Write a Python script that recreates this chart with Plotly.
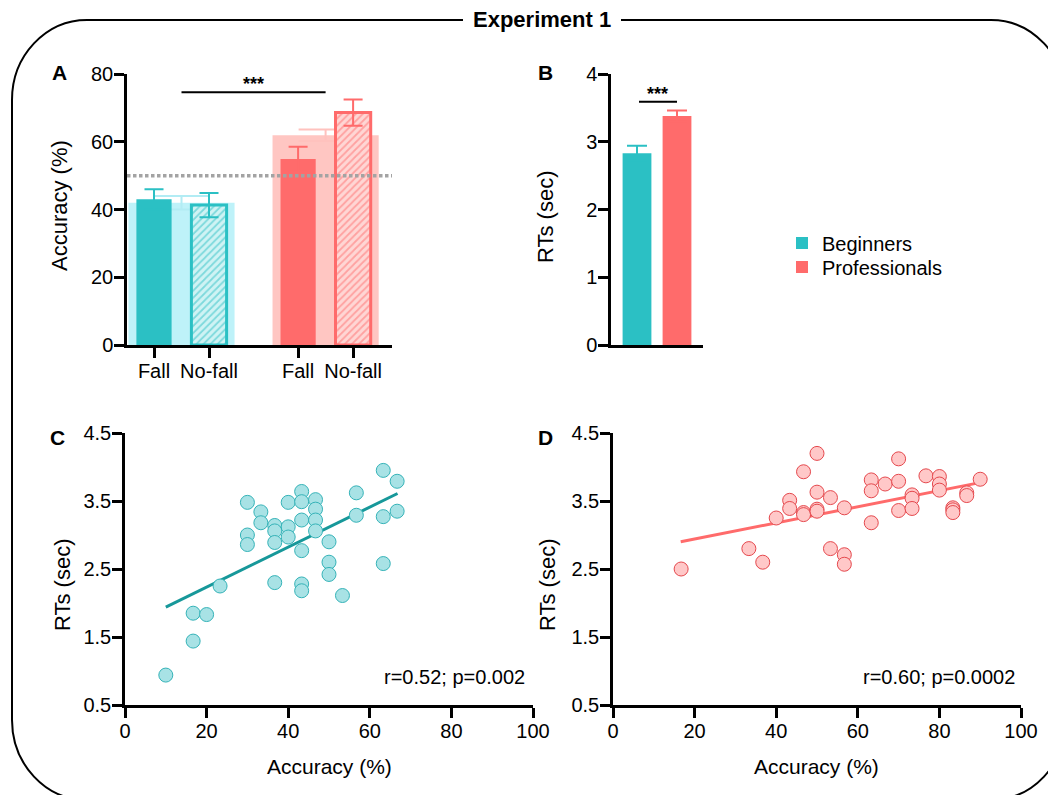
import plotly.graph_objects as go

# ---------------- data ----------------
acc_labels = ["Fall", "No-fall", "Fall", "No-fall"]
groups = ["Beginners", "Professionals"]

beg_acc_mean = [43.0, 41.3]
beg_acc_err = [3.0, 3.6]
pro_acc_mean = [54.9, 68.6]
pro_acc_err = [3.6, 3.9]
overall_acc_mean = [42.0, 61.9]
overall_acc_err = [2.0, 1.7]
chance_level = 50
sig_acc_y = 74.6

rt_mean = [2.83, 3.38]
rt_err = [0.11, 0.08]
sig_rt_y = 3.59

beg_x = [10.0, 16.7, 16.7, 20.0, 23.3, 30.0, 30.0, 30.0, 33.3, 33.3, 36.7, 36.7, 36.7,
         36.7, 40.0, 40.0, 40.0, 43.3, 43.3, 43.3, 43.3, 43.3, 43.3, 46.7, 46.7, 46.7,
         46.7, 50.0, 50.0, 50.0, 53.3, 56.7, 56.7, 63.3, 63.3, 63.3, 66.7, 66.7]
beg_rt = [0.94, 1.85, 1.44, 1.83, 2.25, 3.48, 3.00, 2.86, 3.34, 3.18, 3.14, 3.06, 2.89,
          2.30, 3.48, 3.12, 2.97, 3.64, 3.49, 3.22, 2.77, 2.28, 2.18, 3.52, 3.38, 3.22,
          3.06, 2.90, 2.60, 2.42, 2.11, 3.62, 3.29, 3.95, 3.27, 2.58, 3.79, 3.35]
beg_fit_x = [10.0, 66.8]
beg_fit_y = [1.94, 3.61]

pro_x = [16.7, 33.3, 36.7, 40.0, 43.3, 43.3, 46.7, 46.7, 46.7, 50.0, 50.0, 50.0, 50.0,
         53.3, 53.3, 56.7, 56.7, 56.7, 63.3, 63.3, 63.3, 66.7, 70.0, 70.0, 70.0, 73.3,
         73.3, 73.3, 76.7, 80.0, 80.0, 80.0, 83.3, 83.3, 83.3, 86.7, 86.7, 90.0]
pro_rt = [2.50, 2.80, 2.60, 3.25, 3.51, 3.39, 3.93, 3.33, 3.30, 4.20, 3.63, 3.38, 3.35,
          3.55, 2.80, 3.40, 2.71, 2.57, 3.81, 3.65, 3.18, 3.75, 4.12, 3.79, 3.36, 3.59,
          3.54, 3.39, 3.87, 3.86, 3.75, 3.66, 3.40, 3.37, 3.33, 3.62, 3.58, 3.82]
pro_fit_x = [16.6, 89.9]
pro_fit_y = [2.90, 3.77]

beg_stats = "r=0.52; p=0.002"
pro_stats = "r=0.60; p=0.0002"

# ---------------- styling ----------------
W, H = 1056, 795
OFF = 8  # page body margin of the browser
FONT = "Liberation Sans, Arial, Helvetica, sans-serif"
CYAN = "#2BC0C4"
PALE_CYAN = "#BEF2F9"
PALE_CYAN_ERR = "#B2ECF4"
RED = "#FF6B6B"
PALE_RED = "#FFC6C2"
PALE_RED_ERR = "#FFC2BE"
SC_CYAN_FILL = "#A8E2E5"
SC_CYAN_LINE = "#35B3B8"
SC_CYAN_FIT = "#17989A"
SC_RED_FILL = "#FFC8C8"
SC_RED_LINE = "#E5484D"


def px(x):
    return (x - OFF) / W


def py(y):
    return 1 - (y - OFF) / H


cat_pos = [0, 1, 2.62, 3.62]
grp_pos = [0.5, 3.12]
FG_W = 0.64
BG_W = 1.93

fig = go.Figure()

# ---- Panel A background (overall) bars ----
for i, (pc, pe) in enumerate([(PALE_CYAN, PALE_CYAN_ERR), (PALE_RED, PALE_RED_ERR)]):
    fig.add_bar(x=[grp_pos[i]], y=[overall_acc_mean[i]], width=BG_W,
                marker=dict(color=pc, line=dict(width=0)),
                error_y=dict(type="data", array=[overall_acc_err[i]], color=pe,
                             thickness=2, width=27),
                xaxis="x", yaxis="y", showlegend=False, hoverinfo="skip")

# ---- Panel A foreground bars ----
group_means = [beg_acc_mean, pro_acc_mean]
group_errs = [beg_acc_err, pro_acc_err]
group_cols = [(CYAN, "#CFF3F4"), (RED, "#FFD6D4")]
for g in range(2):
    col, light = group_cols[g]
    fig.add_bar(x=[cat_pos[2 * g]], y=[group_means[g][0]], width=FG_W,
                marker=dict(color=col, line=dict(width=0)),
                error_y=dict(type="data", array=[group_errs[g][0]], color=col,
                             thickness=2, width=9.5),
                xaxis="x", yaxis="y", showlegend=False, name=groups[g] + " Fall")
    fig.add_bar(x=[cat_pos[2 * g + 1]], y=[group_means[g][1]], width=FG_W,
                marker=dict(color=light, line=dict(color=col, width=3),
                            pattern=dict(shape="/", fgcolor=col, bgcolor=light,
                                         size=5, solidity=0.35)),
                error_y=dict(type="data", array=[group_errs[g][1]], color=col,
                             thickness=2, width=9.5),
                xaxis="x", yaxis="y", showlegend=False, name=groups[g] + " No-fall")

# ---- Panel B ----
legends = ["legend", "legend2"]
for i, col in enumerate([CYAN, RED]):
    fig.add_bar(x=[i], y=[rt_mean[i]], width=0.72, name=groups[i],
                marker=dict(color=col, line=dict(width=0)),
                error_y=dict(type="data", array=[rt_err[i]], color=col,
                             thickness=2, width=10),
                xaxis="x2", yaxis="y2", showlegend=True, legend=legends[i])

# ---- Panel C ----
fig.add_scatter(x=beg_fit_x, y=beg_fit_y, mode="lines",
                line=dict(color=SC_CYAN_FIT, width=3),
                xaxis="x3", yaxis="y3", showlegend=False)
fig.add_scatter(x=beg_x, y=beg_rt, mode="markers",
                marker=dict(size=14, color=SC_CYAN_FILL,
                            line=dict(color=SC_CYAN_LINE, width=1)),
                xaxis="x3", yaxis="y3", showlegend=False)

# ---- Panel D ----
fig.add_scatter(x=pro_fit_x, y=pro_fit_y, mode="lines",
                line=dict(color=RED, width=3),
                xaxis="x4", yaxis="y4", showlegend=False)
fig.add_scatter(x=pro_x, y=pro_rt, mode="markers",
                marker=dict(size=14, color=SC_RED_FILL,
                            line=dict(color=SC_RED_LINE, width=1)),
                xaxis="x4", yaxis="y4", showlegend=False)

axis_common = dict(showline=True, linecolor="black", linewidth=2.5, ticks="outside",
                   ticklen=10, tickwidth=2.5, tickcolor="black", showgrid=False,
                   zeroline=False, automargin=False,
                   tickfont=dict(size=20, color="black", family=FONT))
xax = dict(axis_common, ticklabelstandoff=-4)
yax = dict(axis_common, ticklabelstandoff=-3)
xax_b = {k: v for k, v in axis_common.items() if k != "ticks"}

leg_common = dict(xanchor="left", yanchor="middle", bgcolor="rgba(0,0,0,0)",
                  font=dict(size=20, family=FONT, color="black"))

fig.update_layout(
    width=W, height=H,
    margin=dict(l=0, r=0, t=0, b=0, pad=0, autoexpand=False),
    paper_bgcolor="white", plot_bgcolor="rgba(0,0,0,0)",
    font=dict(family=FONT, color="black"),
    barmode="overlay",
    xaxis=dict(domain=[px(127), px(392)], range=[(127 - 154) / 55, (392 - 154) / 55],
               tickvals=cat_pos, ticktext=acc_labels, anchor="y", **xax),
    yaxis=dict(domain=[py(345), py(74)], range=[0, 80], tickvals=[0, 20, 40, 60, 80],
               anchor="x", **yax),
    xaxis2=dict(domain=[px(611), px(703)], range=[-0.65, 1.65], anchor="y2",
                showticklabels=False, ticks="", **xax_b),
    yaxis2=dict(domain=[py(345), py(74)], range=[0, 4], tickvals=[0, 1, 2, 3, 4],
                anchor="x2", **yax),
    xaxis3=dict(domain=[px(125), px(533)], range=[0, 100], tickvals=[0, 20, 40, 60, 80, 100],
                anchor="y3", **xax),
    yaxis3=dict(domain=[py(705), py(433)], range=[0.5, 4.5], tickvals=[0.5, 1.5, 2.5, 3.5, 4.5],
                anchor="x3", **yax),
    xaxis4=dict(domain=[px(613), px(1021)], range=[0, 100], tickvals=[0, 20, 40, 60, 80, 100],
                anchor="y4", **xax),
    yaxis4=dict(domain=[py(705), py(433)], range=[0.5, 4.5], tickvals=[0.5, 1.5, 2.5, 3.5, 4.5],
                anchor="x4", **yax),
    legend=dict(x=px(782), y=py(243), **leg_common),
    legend2=dict(x=px(782), y=py(267), **leg_common),
)

shapes = []
shapes.append(dict(type="line", xref="x domain", yref="y", x0=0, x1=1,
                   y0=chance_level, y1=chance_level, layer="above",
                   line=dict(color="#A3A3A3", width=3.5, dash="3.5px,2.5px")))
shapes.append(dict(type="line", xref="x", yref="y", x0=grp_pos[0], x1=grp_pos[1],
                   y0=sig_acc_y, y1=sig_acc_y, line=dict(color="black", width=2)))
shapes.append(dict(type="line", xref="x2", yref="y2", x0=0.05, x1=1.0,
                   y0=sig_rt_y, y1=sig_rt_y, line=dict(color="black", width=2)))

# rounded frame
L, T, R, B = 12, 20, 1066, 800
rx, ry, k = 75, 80, 0.5523


def P(x, y):
    return f"{px(x):.5f},{py(y):.5f}"


frame = (f"M {P(463, T)} L {P(L + rx, T)} "
         f"C {P(L + rx - k * rx, T)} {P(L, T + ry - k * ry)} {P(L, T + ry)} "
         f"L {P(L, B - ry)} "
         f"C {P(L, B - ry + k * ry)} {P(L + rx - k * rx, B)} {P(L + rx, B)} "
         f"L {P(R - rx, B)} "
         f"C {P(R - rx + k * rx, B)} {P(R, B - ry + k * ry)} {P(R, B - ry)} "
         f"L {P(R, T + ry)} "
         f"C {P(R, T + ry - k * ry)} {P(R - rx + k * rx, T)} {P(R - rx, T)} "
         f"L {P(621, T)}")
shapes.append(dict(type="path", xref="paper", yref="paper", path=frame,
                   line=dict(color="black", width=2)))
fig.update_layout(shapes=shapes)

ann = []


def text(x, y, s, size=20, bold=False, xanchor="center", yanchor="middle", angle=0):
    ann.append(dict(x=px(x), y=py(y), xref="paper", yref="paper", text=f"<b>{s}</b>" if bold else s,
                    showarrow=False, xanchor=xanchor, yanchor=yanchor, textangle=angle,
                    font=dict(size=size, family=FONT, color="black")))


text(542, 20, "Experiment 1", size=22, bold=True)
text(59, 73, "A", size=21, bold=True)
text(545, 73, "B", size=21, bold=True)
text(57, 437, "C", size=21, bold=True)
text(545, 437, "D", size=21, bold=True)
text(60, 206, "Accuracy (%)", size=22, angle=-90)
text(546, 217, "RTs (sec)", size=22, angle=-90)
text(62, 585, "RTs (sec)", size=22, angle=-90)
text(547, 585, "RTs (sec)", size=22, angle=-90)
text(329, 766, "Accuracy (%)", size=21)
text(816, 766, "Accuracy (%)", size=21)
text(527, 677, beg_stats, size=20, xanchor="right")
text(1017, 677, pro_stats, size=20, xanchor="right")
ann.append(dict(x=(grp_pos[0] + grp_pos[1]) / 2, y=sig_acc_y, xref="x", yref="y", text="<b>***</b>",
                showarrow=False, yanchor="bottom", yshift=-4, font=dict(size=18, family=FONT, color="black")))
ann.append(dict(x=0.52, y=sig_rt_y, xref="x2", yref="y2", text="<b>***</b>",
                showarrow=False, yanchor="bottom", yshift=-4, font=dict(size=18, family=FONT, color="black")))
fig.update_layout(annotations=ann)

fig.write_html("out.html")
